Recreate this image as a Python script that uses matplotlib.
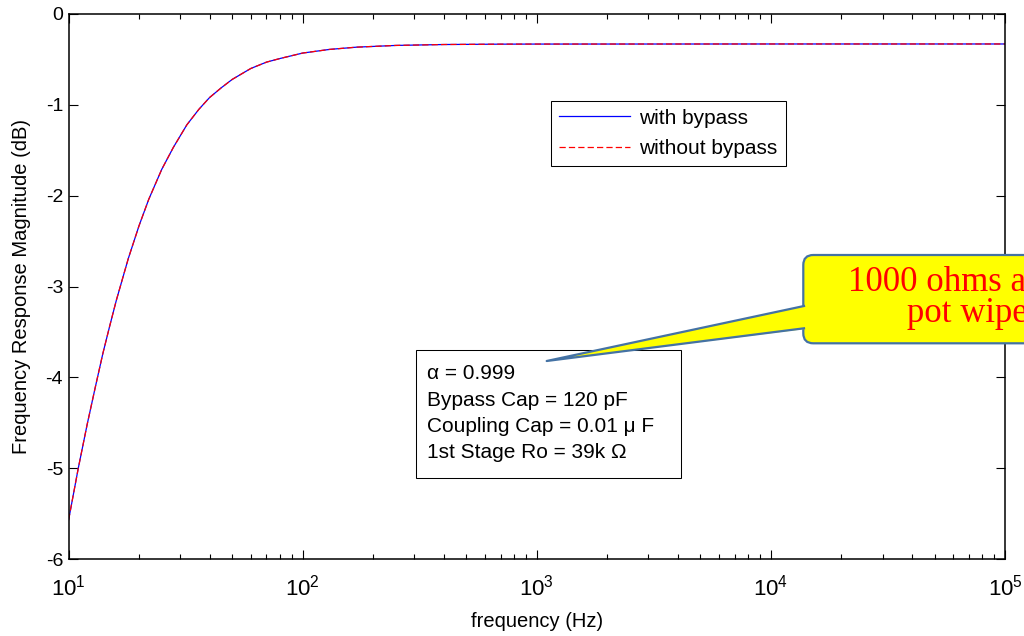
import matplotlib
matplotlib.use("Agg")
import matplotlib.pyplot as plt
from matplotlib.patches import FancyBboxPatch, Rectangle, Polygon
from matplotlib.lines import Line2D

plt.rcParams["font.family"] = ["Liberation Sans", "DejaVu Sans"]
plt.rcParams["mathtext.fontset"] = "custom"
plt.rcParams["mathtext.rm"] = "Liberation Sans"
plt.rcParams["mathtext.it"] = "Liberation Sans:italic"
plt.rcParams["axes.unicode_minus"] = False

# ── data ─────────────────────────────────────────────────────────────────────
freq_hz = [10, 11, 12, 13, 14, 15, 16, 18, 20, 22, 25, 28, 32, 36, 40, 45,
           50, 60, 70, 80, 100, 130, 170, 250, 400, 700, 1000, 10000, 100000]
mag_with_bypass = [-5.57, -5.00, -4.52, -4.11, -3.74, -3.43, -3.15, -2.69,
                   -2.33, -2.04, -1.71, -1.47, -1.22, -1.05, -0.92, -0.81,
                   -0.72, -0.60, -0.53, -0.49, -0.43, -0.39, -0.365, -0.346,
                   -0.336, -0.332, -0.331, -0.330, -0.330]
mag_without_bypass = [-5.57, -5.00, -4.52, -4.11, -3.74, -3.43, -3.15, -2.69,
                      -2.33, -2.04, -1.71, -1.47, -1.22, -1.05, -0.92, -0.81,
                      -0.72, -0.60, -0.53, -0.49, -0.43, -0.39, -0.365, -0.346,
                      -0.336, -0.332, -0.331, -0.330, -0.330]

legend_labels = ["with bypass", "without bypass"]
info_lines = ["\u03b1 = 0.999",
              "Bypass Cap = 120 pF",
              "Coupling Cap = 0.01 \u03bc F",
              "1st Stage Ro = 39k \u03a9"]
callout_lines = ["1000 ohms at the", "pot wiper"]

# ── figure ───────────────────────────────────────────────────────────────────
W, H = 1024, 636
fig = plt.figure(figsize=(W / 100, H / 100), dpi=100)
fig.patch.set_facecolor("white")

ax_l, ax_r, ax_t, ax_b = 68.6, 1005, 14, 559
ax = fig.add_axes([ax_l / W, 1 - ax_b / H, (ax_r - ax_l) / W, (ax_b - ax_t) / H])

l1, = ax.semilogx(freq_hz, mag_with_bypass, color="blue", lw=0.9,
                  label=legend_labels[0])
l2, = ax.semilogx(freq_hz, mag_without_bypass, color="red", lw=0.9,
                  linestyle=(0, (5, 2.5)), label=legend_labels[1])

ax.set_xlim(10, 1e5)
ax.set_ylim(-6, 0)
ax.set_yticks(range(-6, 1))
ax.tick_params(which="both", direction="in", top=True, right=True, width=0.8)
ax.tick_params(which="major", length=6.5)
ax.tick_params(which="minor", length=3.5)
ax.tick_params(axis="x", labelsize=16, pad=11)
ax.tick_params(axis="y", labelsize=14, pad=4)
for s in ax.spines.values():
    s.set_linewidth(1.1)

ax.set_xlabel("frequency (Hz)", fontsize=14.5)
ax.set_ylabel("Frequency Response Magnitude (dB)", fontsize=14.5)
ax.xaxis.set_label_coords(0.5, -0.098)
ax.yaxis.set_label_coords(-0.040, 0.5)

ax.legend(handles=[l1, l2], loc="center",
          bbox_to_anchor=(668.5 / W, 1 - 133.4 / H), bbox_transform=fig.transFigure,
          fontsize=15, frameon=True, fancybox=False, edgecolor="black",
          framealpha=1, borderpad=0.38, labelspacing=0.55, handlelength=3.4,
          handletextpad=0.45, borderaxespad=0)
ax.get_legend().get_frame().set_linewidth(0.75)

# ── annotations in pixel space (inches via dpi_scale_trans) ─────────────────
tr = fig.dpi_scale_trans


def P(x, y):
    return (x / 100, (H - y) / 100)


# text box
bx0, by0, bx1, by1 = 415.7, 350, 681, 478
fig.add_artist(Rectangle(P(bx0, by1), (bx1 - bx0) / 100, (by1 - by0) / 100,
                         transform=tr, facecolor="white", edgecolor="black",
                         lw=0.75, zorder=5))
for txt, yb in zip(info_lines, [379, 405.5, 432, 458.5]):
    fig.text(*P(426.7, yb), txt, transform=tr, fontsize=15, va="baseline",
             ha="left", zorder=6)

# callout (runs past the right edge of the figure, as in the original)
EDGE = "#4472A4"
cx0, cy0, cx1, cy1 = 803.3, 255, 1160, 343.3
fig.add_artist(FancyBboxPatch(P(cx0, cy1), (cx1 - cx0) / 100, (cy1 - cy0) / 100,
                              boxstyle="round,pad=0,rounding_size=0.1",
                              transform=tr, facecolor="#FFFF00", edgecolor=EDGE,
                              lw=1.6, zorder=7))
tip = (546.7, 361)
fig.add_artist(Polygon([P(*tip), P(807, 305.5), P(807, 328.8)], closed=True,
                       transform=tr, facecolor="#FFFF00", edgecolor="none",
                       zorder=8))
xs, ys = zip(P(804, 306), P(*tip), P(804, 328.3))
fig.add_artist(Line2D(xs, ys, transform=tr, color=EDGE, lw=1.6,
                      solid_joinstyle="round", zorder=9))
for txt, x, yb in zip(callout_lines, [848, 906.7], [290.7, 321.7]):
    fig.text(*P(x, yb), txt, transform=tr, fontsize=25, color="red",
             family="Liberation Serif", va="baseline", ha="left", zorder=10)

fig.savefig("out.png", dpi=100)
